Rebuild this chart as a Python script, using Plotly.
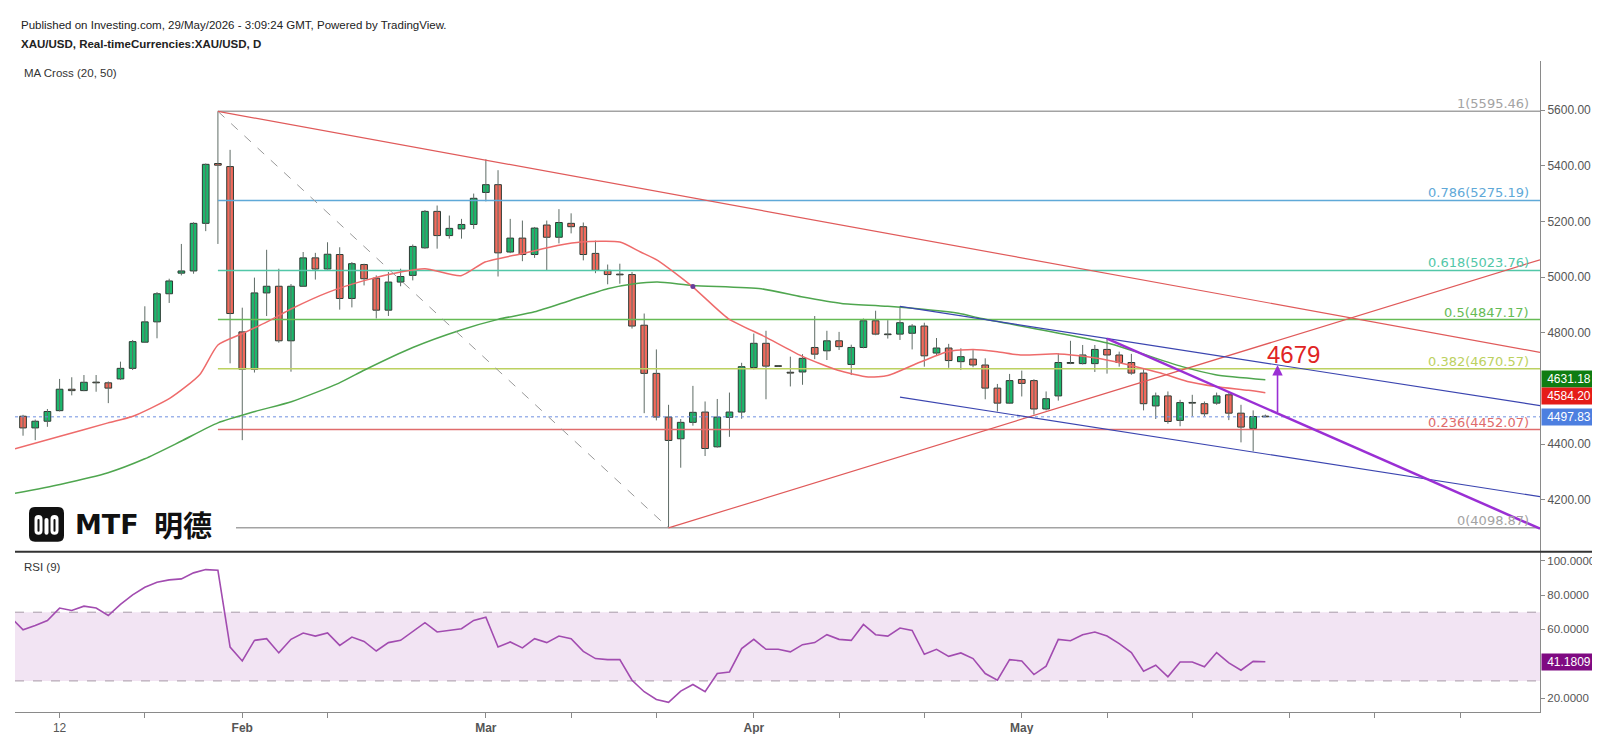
import plotly.graph_objects as go

# ---------------- data (bar index 0 = 7 Jan 2026, daily bars) ----------------
bar_idx = list(range(103))
opens = [4500, 4458, 4482, 4520, 4597, 4592, 4622, 4620, 4634, 4672, 4766, 4839, 4940, 5014, 5022, 5193, 5408, 5397,
         4803, 4669, 4943, 4967, 4771, 4967, 5069, 5029, 5081, 4923, 5045, 4996, 4881, 4982, 5006, 5105, 5236, 5149, 5173, 5189,
         5304, 5332, 5090, 5140, 5081, 5187, 5143, 5193, 5181, 5085, 5024, 5010, 5009, 4827, 4654, 4497, 4419, 4478, 4515, 4390, 4496, 4515,
         4675, 4762, 4681, 4658, 4659, 4747, 4735, 4771, 4686, 4747, 4843, 4795, 4795, 4798, 4824, 4727, 4745, 4696, 4705, 4684, 4601, 4547,
         4632, 4628, 4526, 4573, 4693, 4689, 4689, 4740, 4720, 4693, 4655, 4537, 4573, 4485, 4549, 4545, 4547, 4577, 4511, 4456, 4499]
highs = [4505, 4488, 4526, 4634, 4640, 4648, 4648, 4625, 4696, 4774, 4895, 4946, 4994, 5119, 5197, 5408, 5595.46, 5457,
         4890, 4998, 5098, 5030, 4975, 5090, 5087, 5125, 5107, 5054, 5048, 5006, 5018, 5030, 5117, 5241, 5257, 5221, 5209, 5300,
         5423, 5384, 5209, 5203, 5180, 5203, 5244, 5229, 5196, 5131, 5045, 5048, 5018, 4869, 4740, 4541, 4490, 4609, 4553, 4562, 4585, 4692,
         4797, 4807, 4681, 4714, 4723, 4860, 4807, 4803, 4757, 4851, 4879, 4845, 4895, 4831, 4836, 4781, 4760, 4744, 4740, 4708, 4616, 4652,
         4664, 4633, 4589, 4726, 4771, 4756, 4756, 4779, 4732, 4724, 4673, 4585, 4589, 4559, 4577, 4553, 4585, 4583, 4541, 4521, 4506]
lows = [4430, 4414, 4462, 4517, 4575, 4590, 4588, 4547, 4630, 4666, 4764, 4780, 4907, 5006, 5012, 5165, 5119, 4690,
        4414, 4657, 4860, 4764, 4660, 4967, 4991, 5027, 4883, 4891, 4970, 4851, 4860, 4967, 4988, 5102, 5102, 5138, 5138, 5173,
        5272, 5002, 5086, 5057, 5069, 5022, 5121, 5157, 5060, 5014, 4974, 4976, 4815, 4511, 4485, 4098.87, 4315, 4466, 4357, 4387, 4426, 4491,
        4668, 4561, 4679, 4607, 4613, 4705, 4702, 4738, 4648, 4744, 4791, 4779, 4774, 4740, 4678, 4717, 4674, 4666, 4676, 4561, 4517, 4545,
        4571, 4506, 4521, 4556, 4687, 4686, 4659, 4653, 4678, 4649, 4521, 4490, 4473, 4464, 4500, 4500, 4541, 4486, 4406, 4374, 4497]
closes = [4458, 4482, 4517, 4597, 4592, 4622, 4620, 4601, 4672, 4768, 4839, 4940, 4986, 5022, 5193, 5405, 5402, 4869,
          4669, 4943, 4967, 4771, 4967, 5069, 5029, 5082, 4923, 5048, 4994, 4881, 4982, 5002, 5110, 5236, 5149, 5175, 5189, 5283,
          5332, 5087, 5140, 5081, 5176, 5143, 5196, 5181, 5081, 5024, 5009, 5008, 4824, 4654, 4497, 4413, 4478, 4514, 4384, 4497, 4515, 4678,
          4762, 4680, 4679, 4655, 4708, 4723, 4771, 4750, 4747, 4843, 4795, 4793, 4836, 4824, 4717, 4745, 4700, 4714, 4684, 4601, 4547, 4628,
          4618, 4526, 4563, 4693, 4690, 4720, 4740, 4720, 4693, 4655, 4545, 4573, 4481, 4549, 4547, 4509, 4573, 4511, 4461, 4499, 4497.83]

ma20_idx = [-0.66, 3.04, 6.98, 9.03, 12.07, 14.5, 16.0, 18.06, 20.03, 22.09, 25.04, 28.08, 31.0, 33.0, 35.96, 37.93, 40.97,
            44.0, 45.8, 49.0, 50.7, 52.1, 55.0, 57.9, 60.9, 63.9, 66.9, 69.4, 71.0, 73.2, 75.9, 78.0, 80.0, 81.9, 85.0,
            87.4, 89.7, 91.3, 93.4, 95.6, 97.9, 100.6, 102]
ma20_val = [4383, 4428, 4476, 4500, 4565, 4649, 4756, 4798, 4839, 4887, 4945, 4988, 5018, 5030, 5005, 5054, 5084,
            5114, 5126, 5126, 5090, 5060, 4964, 4851, 4786, 4717, 4665, 4641, 4646, 4686, 4732, 4740, 4732, 4720, 4724,
            4714, 4696, 4679, 4655, 4625, 4607, 4593, 4584.20]
ma50_idx = [-0.66, 3.04, 6.98, 10.0, 12.97, 16.0, 19.05, 22.09, 25.9, 28.08, 32.0, 35.96, 39.0, 42.0, 45.0, 48.0, 50.2,
            52.1, 55.0, 60.6, 63.9, 67.2, 71.0, 76.8, 78.7, 89.1, 95.1, 97.9, 102]
ma50_val = [4223, 4255, 4297, 4347, 4410, 4476, 4517, 4553, 4618, 4667, 4747, 4810, 4848, 4875, 4917, 4958, 4976,
            4982, 4970, 4958, 4929, 4905, 4895, 4870, 4851, 4762, 4679, 4649, 4631.18]
ma_cross_idx = [55.0]
ma_cross_val = [4966]

rsi_idx = list(range(-1, 103))
rsi_val = [67.0, 59.8, 62.3, 65.2, 72.4, 71.0, 73.5, 72.4, 68.1, 74.5, 80.1, 84.5, 87.4, 88.8, 89.4, 92.9, 94.8, 94.4, 49.7,
           41.6, 53.6, 54.6, 46.3, 54.2, 57.9, 56.1, 57.9, 50.7, 55.5, 53.0, 47.4, 52.3, 53.6, 58.5, 63.9, 58.5, 59.4, 60.4, 65.2,
           67.1, 49.7, 52.7, 49.2, 54.6, 52.3, 56.1, 54.6, 47.2, 43.0, 42.4, 42.4, 30.4, 23.7, 19.2, 17.5, 24.1, 27.9, 23.7, 34.3, 35.2, 48.8,
           54.2, 48.4, 48.4, 46.9, 51.1, 52.3, 56.9, 54.2, 53.6, 62.9, 56.9, 56.1, 60.8, 59.4, 45.5, 48.4, 44.3, 46.3, 43.0, 34.3, 30.4, 42.4,
           41.6, 33.7, 38.6, 54.2, 53.4, 56.9, 58.5, 56.1, 51.7, 46.5, 35.7, 39.1, 32.4, 41.0, 41.0, 38.2, 46.5, 40.5, 36.2, 41.4, 41.1809]

tick_idx = [3, 10, 18, 25, 38, 45, 52, 60, 67, 74, 82, 89, 96, 104, 111, 118]
tick_text = ["12", "", "<b>Feb</b>", "", "<b>Mar</b>", "", "", "<b>Apr</b>", "", "", "<b>May</b>", "", "", "", "", ""]

price_ticks = [4200, 4400, 4800, 5000, 5200, 5400, 5600]
rsi_ticks = [20, 60, 80, 100]

fib_ratio = ["1", "0.786", "0.618", "0.5", "0.382", "0.236", "0"]
fib_level = [5595.46, 5275.19, 5023.76, 4847.17, 4670.57, 4452.07, 4098.87]
fib_color = ["#a3a3a3", "#5fa9d8", "#52c7a8", "#66bb55", "#bcd160", "#e06c6c", "#a3a3a3"]
fib_start = 16

X_LO, X_HI = -0.66, 124.55
P_LO, P_HI = 4013.1, 5776.3
R_LO, R_HI = 11.9, 105.2

red_down_x, red_down_y = [16, X_HI], [5595.46, 4729.5]
red_up_x, red_up_y = [53, X_HI], [4098.87, 5062]
fib_diag_x, fib_diag_y = [16, 53], [5595.46, 4098.87]
blue_up_x, blue_up_y = [72, X_HI], [4895, 4538]
blue_lo_x, blue_lo_y = [72, X_HI], [4568.6, 4211]
purple_x, purple_y = [89, X_HI], [4779, 4096]
arrow_x, arrow_from, arrow_to = 103.0, 4509, 4684
target_text, target_x, target_y = "4679", 104.3, 4721

last_price = 4497.83
ma20_last, ma50_last, rsi_last = 4584.20, 4631.18, 41.1809

# ---------------- helpers (pixel -> paper) ----------------
W, H = 1600, 734
PL, PR, PT, PB = 7, 1532, 53, 707
def X(px):
    return (px - PL) / (PR - PL)
def Y(py):
    return (PB - py) / (PB - PT)
SPLIT = Y(546)

GREEN = "#1bb86c"
RED = "#f26a5c"
OUT = "#2c3a33"
WICK = "#5f6c66"

fig = go.Figure()

# wicks
wx, wy = [], []
for i, h, l in zip(bar_idx, highs, lows):
    wx += [i, i, None]
    wy += [l, h, None]
fig.add_trace(go.Scatter(x=wx, y=wy, mode="lines", line=dict(color=WICK, width=1), hoverinfo="skip",
                         xaxis="x", yaxis="y"))

# fib lines
for r, lv, c in zip(fib_ratio, fib_level, fib_color):
    fig.add_trace(go.Scatter(x=[fib_start, X_HI], y=[lv, lv], mode="lines", line=dict(color=c, width=1.5),
                             hoverinfo="skip", xaxis="x", yaxis="y"))

# last price dotted
fig.add_trace(go.Scatter(x=[X_LO, X_HI], y=[last_price, last_price], mode="lines",
                         line=dict(color="#6f8fe0", width=1, dash="dot"), hoverinfo="skip", xaxis="x", yaxis="y"))

# moving averages
fig.add_trace(go.Scatter(x=ma50_idx, y=ma50_val, mode="lines", line=dict(color="#4fa64f", width=1.5, shape="spline", smoothing=0.6),
                         hoverinfo="skip", xaxis="x", yaxis="y"))
fig.add_trace(go.Scatter(x=ma20_idx, y=ma20_val, mode="lines", line=dict(color="#ee6b6b", width=1.5, shape="spline", smoothing=0.6),
                         hoverinfo="skip", xaxis="x", yaxis="y"))
fig.add_trace(go.Scatter(x=ma_cross_idx, y=ma_cross_val, mode="markers", marker=dict(color="#6a3d9a", size=5),
                         hoverinfo="skip", xaxis="x", yaxis="y"))

# drawings
fig.add_trace(go.Scatter(x=fib_diag_x, y=fib_diag_y, mode="lines", line=dict(color="#9a9a9a", width=1, dash="dash"),
                         hoverinfo="skip", xaxis="x", yaxis="y"))
for xs, ys in [(red_down_x, red_down_y), (red_up_x, red_up_y)]:
    fig.add_trace(go.Scatter(x=xs, y=ys, mode="lines", line=dict(color="#e05a5a", width=1.2),
                             hoverinfo="skip", xaxis="x", yaxis="y"))
for xs, ys in [(blue_up_x, blue_up_y), (blue_lo_x, blue_lo_y)]:
    fig.add_trace(go.Scatter(x=xs, y=ys, mode="lines", line=dict(color="#3b45b0", width=1.2),
                             hoverinfo="skip", xaxis="x", yaxis="y"))
fig.add_trace(go.Scatter(x=purple_x, y=purple_y, mode="lines", line=dict(color="#9a2fd4", width=2.5),
                         hoverinfo="skip", xaxis="x", yaxis="y"))

# candle bodies
body_base = [min(o, c) for o, c in zip(opens, closes)]
body_h = [max(abs(c - o), 2.5) for o, c in zip(opens, closes)]
body_col = [GREEN if c >= o else RED for o, c in zip(opens, closes)]
fig.add_trace(go.Bar(x=bar_idx, y=body_h, base=body_base, width=0.55,
                     marker=dict(color=body_col, line=dict(color=OUT, width=1)),
                     hoverinfo="skip", xaxis="x", yaxis="y"))

# RSI
fig.add_trace(go.Scatter(x=rsi_idx, y=rsi_val, mode="lines", line=dict(color="#a24cb0", width=1.6),
                         hoverinfo="skip", xaxis="x2", yaxis="y2"))

AX_FONT = dict(family="Liberation Sans, Arial, sans-serif", size=12, color="#555555")
RSI_FONT = dict(family="Liberation Sans, Arial, sans-serif", size=11.5, color="#555555")

fig.update_layout(
    width=W, height=H,
    margin=dict(l=PL, r=W - PR, t=PT, b=H - PB),
    paper_bgcolor="white", plot_bgcolor="white",
    showlegend=False, hovermode=False, barmode="overlay",
    xaxis=dict(domain=[0, 1], range=[X_LO, X_HI], anchor="y", showticklabels=False, showgrid=False,
               zeroline=False, showline=False, ticks=""),
    xaxis2=dict(domain=[0, 1], range=[X_LO, X_HI], anchor="y2", matches="x", showgrid=False, zeroline=False,
                showline=True, linecolor="#8a8a8a", linewidth=1, ticks="outside", ticklen=5, tickcolor="#8a8a8a",
                tickvals=tick_idx, ticktext=tick_text, tickfont=AX_FONT),
    yaxis=dict(domain=[SPLIT, 1], range=[P_LO, P_HI], side="right", anchor="x", showgrid=False, zeroline=False,
               showline=True, linecolor="#8a8a8a", linewidth=1, ticks="outside", ticklen=4, tickcolor="#8a8a8a",
               tickvals=price_ticks, ticktext=[f"{v:.2f}" for v in price_ticks], tickfont=AX_FONT),
    yaxis2=dict(domain=[0, SPLIT], range=[R_LO, R_HI], side="right", anchor="x2", showgrid=False, zeroline=False,
                showline=True, linecolor="#8a8a8a", linewidth=1, ticks="outside", ticklen=4, tickcolor="#8a8a8a",
                tickvals=rsi_ticks, ticktext=[f"{v:.4f}" for v in rsi_ticks], tickfont=RSI_FONT),
)

shapes = []
# RSI band and bounds
shapes.append(dict(type="rect", xref="x2", yref="y2", x0=X_LO, x1=X_HI, y0=30, y1=70,
                   fillcolor="#f2e4f3", line=dict(width=0), layer="below"))
for lv in (30, 70):
    shapes.append(dict(type="line", xref="x2", yref="y2", x0=X_LO, x1=X_HI, y0=lv, y1=lv,
                       line=dict(color="#a79aa8", width=1, dash="dash"), layer="below"))
# pane separator and right border
shapes.append(dict(type="line", xref="paper", yref="paper", x0=X(PL), x1=X(1593), y0=Y(546), y1=Y(546),
                   line=dict(color="#333333", width=2)))
shapes.append(dict(type="line", xref="paper", yref="paper", x0=X(1594), x1=X(1594), y0=Y(PT), y1=Y(734),
                   line=dict(color="#111111", width=1.5), layer="below"))

# logo
def rrect(x0, y0, x1, y1, r):
    return (f"M {X(x0+r)},{Y(y0)} L {X(x1-r)},{Y(y0)} Q {X(x1)},{Y(y0)} {X(x1)},{Y(y0+r)} "
            f"L {X(x1)},{Y(y1-r)} Q {X(x1)},{Y(y1)} {X(x1-r)},{Y(y1)} L {X(x0+r)},{Y(y1)} "
            f"Q {X(x0)},{Y(y1)} {X(x0)},{Y(y1-r)} L {X(x0)},{Y(y0+r)} Q {X(x0)},{Y(y0)} {X(x0+r)},{Y(y0)} Z")
shapes.append(dict(type="rect", xref="paper", yref="paper", x0=X(PL), x1=X(228), y0=Y(544), y1=Y(493),
                   fillcolor="white", line=dict(width=0), layer="above"))
shapes.append(dict(type="path", xref="paper", yref="paper", path=rrect(21, 501, 56, 536, 6),
                   fillcolor="#111111", line=dict(width=0), layer="above"))
for (a, b, c, d, r) in [(26.5, 509, 34.5, 529, 4), (36.5, 512, 40.5, 529, 2), (42.5, 509, 50.5, 529, 4)]:
    shapes.append(dict(type="path", xref="paper", yref="paper", path=rrect(a, b, c, d, r),
                       fillcolor="white", line=dict(width=0), layer="above"))
for (a, b, c, d, r) in [(29.5, 513, 31.5, 526, 1), (45.5, 513, 47.5, 526, 1)]:
    shapes.append(dict(type="path", xref="paper", yref="paper", path=rrect(a, b, c, d, r),
                       fillcolor="#111111", line=dict(width=0), layer="above"))
fig.update_layout(shapes=shapes)

ann = []
HDR = "Liberation Sans, Arial, sans-serif"
ann.append(dict(xref="paper", yref="paper", x=X(11), y=Y(17), xanchor="left", yanchor="middle", showarrow=False,
                text="Published on Investing.com, 29/May/2026 - 3:09:24 GMT, Powered by TradingView.",
                font=dict(family=HDR, size=11.5, color="#222222")))
ann.append(dict(xref="paper", yref="paper", x=X(11), y=Y(36), xanchor="left", yanchor="middle", showarrow=False,
                text="<b>XAU/USD, Real-timeCurrencies:XAU/USD, D</b>", font=dict(family=HDR, size=11.5, color="#222222")))
ann.append(dict(xref="paper", yref="paper", x=X(14), y=Y(65), xanchor="left", yanchor="middle", showarrow=False,
                text="MA Cross (20, 50)", font=dict(family=HDR, size=11.5, color="#333333")))
ann.append(dict(xref="paper", yref="paper", x=X(14), y=Y(561), xanchor="left", yanchor="middle", showarrow=False,
                text="RSI (9)", font=dict(family=HDR, size=11.5, color="#333333")))

# fib labels
for r, lv, c in zip(fib_ratio, fib_level, fib_color):
    ann.append(dict(xref="x", yref="y", x=123.8, y=lv, xanchor="right", yanchor="bottom", showarrow=False,
                    text=f"{r}({lv:.2f})", font=dict(family="DejaVu Sans, Verdana, sans-serif", size=13, color=c),
                    yshift=-2))

# target arrow + label
ann.append(dict(xref="x", yref="y", x=arrow_x, y=arrow_to, axref="x", ayref="y", ax=arrow_x, ay=arrow_from,
                showarrow=True, arrowhead=2, arrowsize=1.3, arrowwidth=1.6, arrowcolor="#9a2fd4", text=""))
ann.append(dict(xref="x", yref="y", x=target_x, y=target_y, showarrow=False, text=target_text,
                font=dict(family=HDR, size=24, color="#e02424"), xanchor="center", yanchor="middle"))

# right-axis value boxes
def box(py, txt, bg):
    return dict(xref="paper", yref="paper", x=X(1533), y=Y(py), xanchor="left", yanchor="middle", showarrow=False,
                text=txt, bgcolor=bg, width=52, height=14, borderpad=1, align="center",
                font=dict(family=HDR, size=12, color="white"))
ann.append(box(372.7, f"{ma50_last:.2f}", "#0f7d12"))
ann.append(box(390.0, f"{ma20_last:.2f}", "#e51c18"))
ann.append(box(410.7, f"{last_price:.2f}", "#4d7fe0"))
ann.append(box(657.0, f"{rsi_last:.4f}", "#7f0a82"))

# logo text
ann.append(dict(xref="paper", yref="paper", x=X(65), y=Y(519), xanchor="left", yanchor="middle", showarrow=False,
                text="<b>MTF</b>", font=dict(family="DejaVu Sans, sans-serif", size=27, color="#111111")))
ann.append(dict(xref="paper", yref="paper", x=X(144), y=Y(518), xanchor="left", yanchor="middle", showarrow=False,
                text="<b>明德</b>", font=dict(family="Noto Sans CJK SC, sans-serif", size=29, color="#111111")))
fig.update_layout(annotations=ann)

fig.write_html("out.html")
